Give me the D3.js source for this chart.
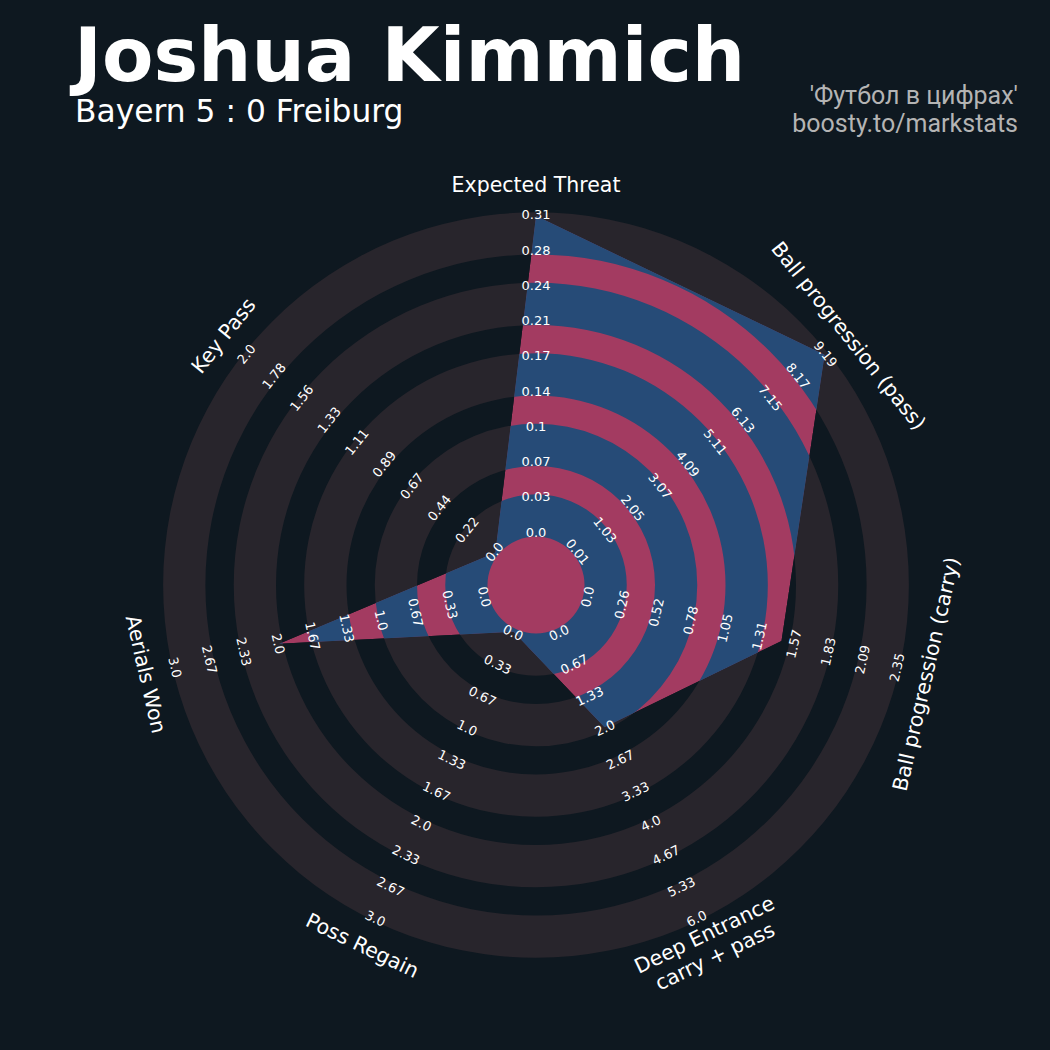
<!DOCTYPE html>
<html>
<head>
<meta charset="utf-8">
<script src="https://cdn.jsdelivr.net/npm/d3@7"></script>
<style>
  html, body { margin: 0; padding: 0; background: #0e1820; }
  svg { display: block; }
</style>
</head>
<body>
<svg id="chart" width="1050" height="1050"></svg>
<script>
// ---------- data ----------
const params = ["Expected Threat", "Ball progression (pass)", "Ball progression (carry)",
  "Deep Entrance\ncarry + pass", "Poss Regain", "Aerials Won", "Key Pass"];
const lows   = [0.0, 0.01, 0.0, 0.0, 0.0, 0.0, 0.0];
const highs  = [0.31, 9.19, 2.35, 6.0, 3.0, 3.0, 2.0];
const values = [0.31, 9.19, 1.48, 2.0, 0.0, 2.0, 0.0];
const rangeLabels = [
  ["0.0","0.03","0.07","0.1","0.14","0.17","0.21","0.24","0.28","0.31"],
  ["0.01","1.03","2.05","3.07","4.09","5.11","6.13","7.15","8.17","9.19"],
  ["0.0","0.26","0.52","0.78","1.05","1.31","1.57","1.83","2.09","2.35"],
  ["0.0","0.67","1.33","2.0","2.67","3.33","4.0","4.67","5.33","6.0"],
  ["0.0","0.33","0.67","1.0","1.33","1.67","2.0","2.33","2.67","3.0"],
  ["0.0","0.33","0.67","1.0","1.33","1.67","2.0","2.33","2.67","3.0"],
  ["0.0","0.22","0.44","0.67","0.89","1.11","1.33","1.56","1.78","2.0"]
];
const title = "Joshua Kimmich";
const subtitle = "Bayern 5 : 0 Freiburg";
const credits = ["'Футбол в цифрах'", "boosty.to/markstats"];

// ---------- style ----------
const BG = "#0e1820", RING = "#28252c", BLUE = "#264b77", PINK = "#a33b61";
const cx = 536, cy = 585;
const R0 = 52, R1 = 369.25, EXT = 3.5, NRINGS = 9;

const svg = d3.select("#chart");
svg.append("rect").attr("width", 1050).attr("height", 1050).attr("fill", BG);

const g = svg.append("g").attr("transform", `translate(${cx},${cy})`);
const n = params.length;
const angle = d3.scaleLinear().domain([0, n]).range([0, 2 * Math.PI]);
const ringScale = d3.scaleLinear().domain([0, NRINGS]).range([R0, R1]);
const rScales = params.map((p, i) => d3.scaleLinear().domain([lows[i], highs[i]]).range([R0, R1]));

const arc = d3.arc().startAngle(0).endAngle(2 * Math.PI);
const bands = d3.range(0, NRINGS, 2).map(k => ({
  inner: ringScale(k) - EXT, outer: ringScale(k + 1) + EXT
}));

// background rings
g.selectAll("path.ring").data(bands).join("path")
  .attr("class", "ring")
  .attr("d", d => arc({innerRadius: d.inner, outerRadius: d.outer}))
  .attr("fill", RING);

// radar polygon
const radial = d3.lineRadial()
  .angle((d, i) => angle(i))
  .radius((d, i) => rScales[i](d))
  .curve(d3.curveLinearClosed);
const polyPath = radial(values);

svg.append("defs").append("clipPath").attr("id", "radarClip")
  .append("path").attr("d", polyPath);

const dataG = g.append("g").attr("clip-path", "url(#radarClip)");
dataG.append("path").attr("d", polyPath).attr("fill", PINK);
dataG.selectAll("path.band").data(bands).join("path")
  .attr("class", "band")
  .attr("d", d => arc({innerRadius: d.inner, outerRadius: d.outer}))
  .attr("fill", BLUE);

// text rotation helper
function rot(a) {
  let deg = a * 180 / Math.PI;
  if (deg > 90 && deg < 270) deg -= 180;
  else if (deg >= 270) deg -= 360;
  return deg;
}

// range labels
params.forEach((p, i) => {
  const a = angle(i);
  rangeLabels[i].forEach((lab, k) => {
    const r = ringScale(k) + 1;
    g.append("text")
      .attr("transform", `translate(${r * Math.sin(a)},${-r * Math.cos(a)}) rotate(${rot(a)})`)
      .attr("text-anchor", "middle")
      .attr("dominant-baseline", "central")
      .attr("font-family", "DejaVu Sans")
      .attr("font-size", 13)
      .attr("fill", "#ffffff")
      .text(lab);
  });
});

// parameter labels
const RL = 400;
params.forEach((p, i) => {
  const a = angle(i);
  const lines = p.split("\n");
  const t = g.append("text")
    .attr("transform", `translate(${RL * Math.sin(a)},${-RL * Math.cos(a)}) rotate(${rot(a)})`)
    .attr("text-anchor", "middle")
    .attr("font-family", "DejaVu Sans")
    .attr("font-size", 20.5)
    .attr("fill", "#ffffff");
  const lh = 24;
  lines.forEach((ln, j) => {
    t.append("tspan")
      .attr("x", 0)
      .attr("y", (j - (lines.length - 1) / 2) * lh)
      .attr("dy", "0.35em")
      .text(ln);
  });
});

// titles
svg.append("text").attr("x", 74).attr("y", 81)
  .attr("font-family", "DejaVu Sans").attr("font-weight", "bold")
  .attr("font-size", 75).attr("fill", "#ffffff").text(title);
svg.append("text").attr("x", 75).attr("y", 122)
  .attr("font-family", "DejaVu Sans")
  .attr("font-size", 31.3).attr("fill", "#ffffff").text(subtitle);
credits.forEach((c, j) => {
  svg.append("text").attr("x", 1018).attr("y", 104 + j * 28)
    .attr("text-anchor", "end")
    .attr("font-family", "Roboto")
    .attr("font-size", 25).attr("fill", "#b4b4b4").text(c);
});
</script>
</body>
</html>
